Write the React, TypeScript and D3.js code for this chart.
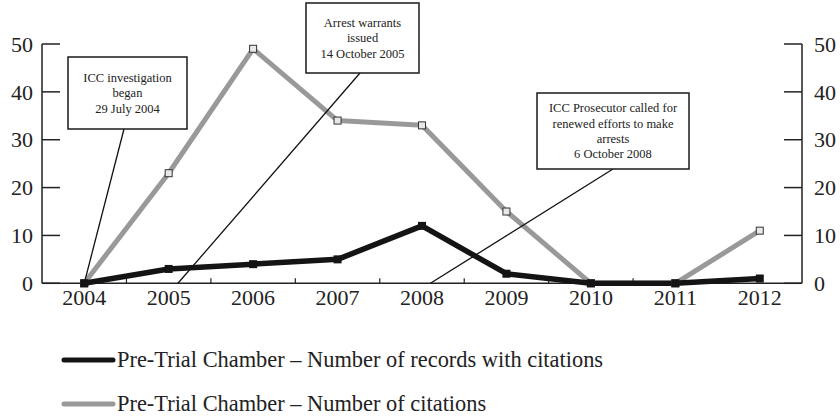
import React from "react";
import * as d3 from "d3";

const years = ["2004", "2005", "2006", "2007", "2008", "2009", "2010", "2011", "2012"];
const recordsWithCitations = [0, 3, 4, 5, 12, 2, 0, 0, 1];
const numberOfCitations = [0, 23, 49, 34, 33, 15, 0, 0, 11];
const yTicks = [0, 10, 20, 30, 40, 50];
const legendLabels = [
  "Pre-Trial Chamber – Number of records with citations",
  "Pre-Trial Chamber – Number of citations",
];
const annotationLines = [
  ["ICC investigation", "began", "29 July 2004"],
  ["Arrest warrants", "issued", "14 October 2005"],
  ["ICC Prosecutor called for", "renewed efforts to make", "arrests", "6 October 2008"],
];
// anchor on the x axis, as fractional year index
const annotationAnchors = [0, 1.11, 4.1];

const W = 840;
const H = 416;
const left = 42;
const right = 802;
const top = 44;
const bottom = 283.3;
const FONT = "'Liberation Serif', 'Times New Roman', Tinos, serif";

const boxes = [
  { x: 68, y: 57, w: 119, h: 72, lx: 124 },
  { x: 306, y: 3, w: 113, h: 70, lx: 360 },
  { x: 537, y: 93, w: 152, h: 76, lx: 613 },
];

export default function App() {
  const x = d3.scaleLinear().domain([-0.5, years.length - 0.5]).range([left, right]);
  const y = d3.scaleLinear().domain([0, 50]).range([bottom, top]);
  const line = d3
    .line<number>()
    .x((_, i) => x(i))
    .y((d) => y(d));

  const black = "#141414";
  const gray = "#999999";

  return (
    <div style={{ position: "absolute", left: 0, top: 0 }}>
      <svg width={W} height={H} style={{ display: "block", background: "#fff", fontFamily: FONT }}>
        {/* axes */}
        <line x1={left} x2={right} y1={bottom} y2={bottom} stroke="#222" strokeWidth={1.5} />
        <line x1={left} x2={left} y1={top} y2={bottom} stroke="#222" strokeWidth={1.5} />
        <line x1={right} x2={right} y1={top} y2={bottom} stroke="#222" strokeWidth={1.5} />
        {yTicks.map((t) => (
          <g key={"yt" + t}>
            <line x1={left} x2={left + 18} y1={y(t)} y2={y(t)} stroke="#222" strokeWidth={1.5} />
            <line x1={right - 18} x2={right} y1={y(t)} y2={y(t)} stroke="#222" strokeWidth={1.5} />
            <text x={33} y={y(t)} dy="0.35em" textAnchor="end" fontSize={22} fill="#222">
              {t}
            </text>
            <text x={814} y={y(t)} dy="0.35em" textAnchor="start" fontSize={22} fill="#222">
              {t}
            </text>
          </g>
        ))}
        {years.map((yr, i) => (
          <g key={yr}>
            {i > 0 && (
              <line x1={x(i - 0.5)} x2={x(i - 0.5)} y1={bottom} y2={bottom - 5} stroke="#222" strokeWidth={1.2} />
            )}
            <text x={x(i)} y={305} textAnchor="middle" fontSize={22} fill="#222">
              {yr}
            </text>
          </g>
        ))}

        {/* gray series */}
        <path d={line(numberOfCitations) || ""} fill="none" stroke={gray} strokeWidth={5} strokeLinejoin="round" />

        {/* connectors */}
        {boxes.map((b, i) => (
          <line
            key={"c" + i}
            x1={b.lx}
            y1={b.y + b.h}
            x2={x(annotationAnchors[i])}
            y2={y(0)}
            stroke="#111"
            strokeWidth={1.3}
          />
        ))}

        {/* black series */}
        <path d={line(recordsWithCitations) || ""} fill="none" stroke={black} strokeWidth={5.5} strokeLinejoin="round" />

        {numberOfCitations.map((v, i) => (
          <rect
            key={"gm" + i}
            x={x(i) - 3.5}
            y={y(v) - 3.5}
            width={7}
            height={7}
            fill="#e8e8e8"
            stroke="#333"
            strokeWidth={1}
          />
        ))}
        {recordsWithCitations.map((v, i) => (
          <rect key={"bm" + i} x={x(i) - 4} y={y(v) - 4} width={8} height={8} fill={black} />
        ))}

        {/* annotation boxes */}
        {boxes.map((b, i) => {
          const lines = annotationLines[i];
          const lh = 15.3;
          const cy = b.y + b.h / 2;
          const start = cy - ((lines.length - 1) * lh) / 2;
          return (
            <g key={"b" + i}>
              <rect x={b.x} y={b.y} width={b.w} height={b.h} fill="#fff" stroke="#1a1a1a" strokeWidth={1.5} />
              {lines.map((t, j) => (
                <text
                  key={j}
                  x={b.x + b.w / 2}
                  y={start + j * lh}
                  dy="0.35em"
                  textAnchor="middle"
                  fontSize={12.5}
                  fill="#222"
                >
                  {t}
                </text>
              ))}
            </g>
          );
        })}

        {/* legend */}
        {legendLabels.map((lab, i) => {
          const ly = 360 + i * 44;
          return (
            <g key={"lg" + i}>
              <line
                x1={64}
                x2={113}
                y1={ly}
                y2={ly}
                stroke={i === 0 ? black : gray}
                strokeWidth={5}
                strokeLinecap="round"
              />
              <text x={117} y={ly} dy="0.33em" fontSize={22.4} fill="#222">
                {lab}
              </text>
            </g>
          );
        })}
      </svg>
    </div>
  );
}
